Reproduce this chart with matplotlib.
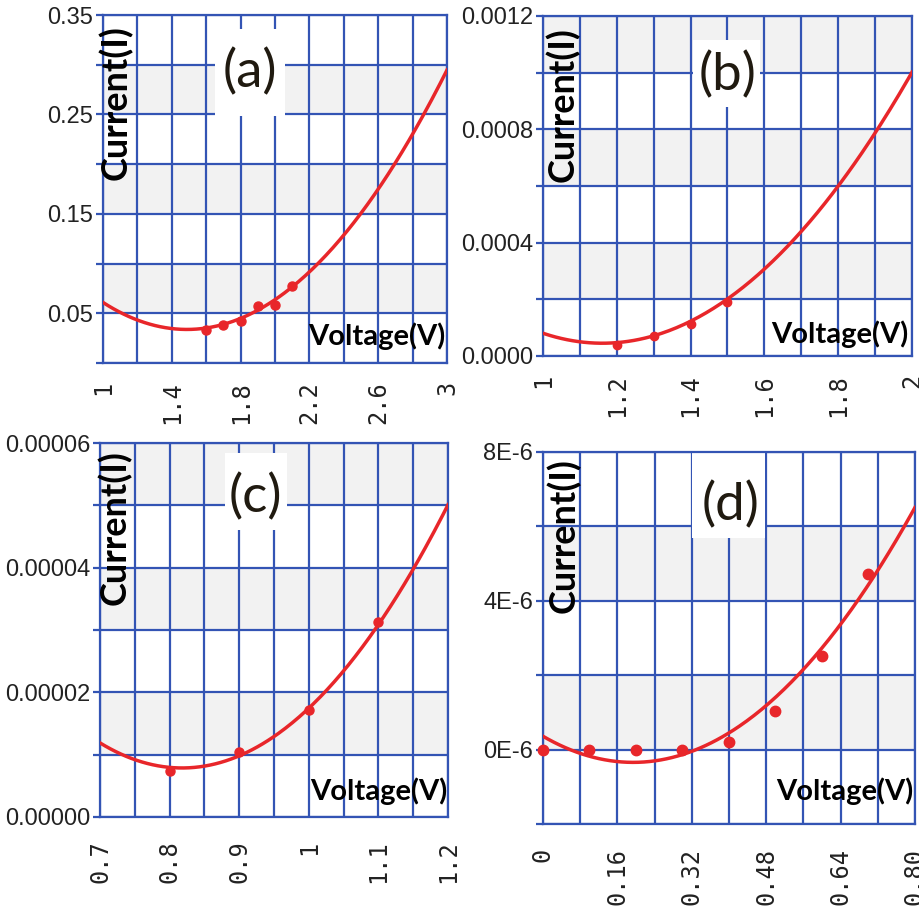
import numpy as np
import matplotlib.pyplot as plt
from matplotlib import font_manager
from matplotlib.patches import Rectangle
from matplotlib.ticker import MultipleLocator

# measured points (voltage, current) for the four samples
a_volt = [1.6, 1.7, 1.8, 1.9, 2.0, 2.1]
a_curr = [0.033, 0.038, 0.042, 0.057, 0.058, 0.077]
b_volt = [1.2, 1.3, 1.4, 1.5]
b_curr = [0.000039, 0.000071, 0.000113, 0.000192]
c_volt = [0.8, 0.9, 1.0, 1.1]
c_curr = [7.4e-6, 1.045e-5, 1.715e-5, 3.13e-5]
d_volt = [0.0, 0.1, 0.2, 0.3, 0.4, 0.5, 0.6, 0.7]
d_curr = [0.0, 0.0, 0.0, 0.0, 0.21e-6, 1.03e-6, 2.52e-6, 4.72e-6]

# values (smoothed with a quadratic)
a_fit_v = [1.0, 1.4, 1.6, 2.0, 2.2, 2.6, 3.0]
a_fit_i = [0.0617, 0.035, 0.034, 0.058, 0.097, 0.177, 0.293]
b_fit_v = [1.0, 1.2, 1.5, 1.6, 1.8, 2.0]
b_fit_i = [0.0000824, 0.000045, 0.000192, 0.000315, 0.000604, 0.000998]
c_fit_v = [0.7, 0.8, 0.9, 1.0, 1.1, 1.2]
c_fit_i = [1.18e-5, 8.0e-6, 1.02e-5, 1.69e-5, 3.11e-5, 5.01e-5]
d_fit_v = [0.0, 0.16, 0.24, 0.32, 0.48, 0.64, 0.8]
d_fit_i = [0.36e-6, -0.31e-6, -0.31e-6, -0.05e-6, 1.12e-6, 3.46e-6, 6.47e-6]

# axis ticks and labels
a_xticks = [1.0, 1.4, 1.8, 2.2, 2.6, 3.0]
a_xlabels = ['1', '1.4', '1.8', '2.2', '2.6', '3']
a_yticks = [0.05, 0.15, 0.25, 0.35]
a_ylabels = ['0.05', '0.15', '0.25', '0.35']
b_xticks = [1.0, 1.2, 1.4, 1.6, 1.8, 2.0]
b_xlabels = ['1', '1.2', '1.4', '1.6', '1.8', '2']
b_yticks = [0.0, 0.0004, 0.0008, 0.0012]
b_ylabels = ['0.0000', '0.0004', '0.0008', '0.0012']
c_xticks = [0.7, 0.8, 0.9, 1.0, 1.1, 1.2]
c_xlabels = ['0.7', '0.8', '0.9', '1', '1.1', '1.2']
c_yticks = [0.0, 0.00002, 0.00004, 0.00006]
c_ylabels = ['0.00000', '0.00002', '0.00004', '0.00006']
d_xticks = [0.0, 0.16, 0.32, 0.48, 0.64, 0.80]
d_xlabels = ['0', '0.16', '0.32', '0.48', '0.64', '0.80']
d_yticks = [0.0, 4e-6, 8e-6]
d_ylabels = ['0E-6', '4E-6', '8E-6']

letters = ['(a)', '(b)', '(c)', '(d)']

blue = '#3354b4'
red = '#e8262a'
band = '#f2f2f2'
bold_font = ['Lato', 'DejaVu Sans']

# narrow font for the y tick labels, whatever is installed
names = {f.name for f in font_manager.fontManager.ttflist}
if 'Liberation Sans Narrow' in names:
    ytick_font = dict(family='Liberation Sans Narrow', size=18)
elif 'Liberation Sans' in names:
    ytick_font = dict(family='Liberation Sans', size=17)
else:
    ytick_font = dict(family='DejaVu Sans', size=15)

panels = [
    dict(pos=[0.1120, 0.6063, 0.3739, 0.3774], v=a_volt, i=a_curr, fv=a_fit_v, fi=a_fit_i,
         xlim=(1, 3), xstep=0.2, xt=a_xticks, xl=a_xlabels,
         ylim=(0, 0.35), ystep=0.05, yt=a_yticks, yl=a_ylabels,
         box=(0.326, 0.710, 0.203, 0.25), let_xy=(0.427, 0.836),
         cur_xy=(0.038, 0.971), volt_xy=(0.994, 0.052), xpad=13, ms=6.5),
    dict(pos=[0.5902, 0.6139, 0.4011, 0.3688], v=b_volt, i=b_curr, fv=b_fit_v, fi=b_fit_i,
         xlim=(1, 2), xstep=0.1, xt=b_xticks, xl=b_xlabels,
         ylim=(0, 0.0012), ystep=0.0002, yt=b_yticks, yl=b_ylabels,
         box=(0.407, 0.732, 0.181, 0.197), let_xy=(0.499, 0.826),
         cur_xy=(0.052, 0.968), volt_xy=(0.989, 0.038), xpad=13, ms=6),
    dict(pos=[0.1087, 0.1139, 0.3783, 0.4056], v=c_volt, i=c_curr, fv=c_fit_v, fi=c_fit_i,
         xlim=(0.7, 1.2), xstep=0.05, xt=c_xticks, xl=c_xlabels,
         ylim=(0, 0.00006), ystep=0.00001, yt=c_yticks, yl=c_ylabels,
         box=(0.359, 0.767, 0.178, 0.206), let_xy=(0.445, 0.856),
         cur_xy=(0.043, 0.98), volt_xy=(0.997, 0.045), xpad=17, ms=6.5),
    dict(pos=[0.5902, 0.1063, 0.4043, 0.4035], v=d_volt, i=d_curr, fv=d_fit_v, fi=d_fit_i,
         xlim=(0, 0.8), xstep=0.08, xt=d_xticks, xl=d_xlabels,
         ylim=(-2e-6, 8e-6), ystep=2e-6, yt=d_yticks, yl=d_ylabels,
         box=(0.40, 0.769, 0.197, 0.228), let_xy=(0.505, 0.858),
         cur_xy=(0.056, 0.984), volt_xy=(0.995, 0.065), xpad=17, ms=7.5),
]

fig = plt.figure(figsize=(9.2, 9.22), dpi=100)

for p, letter in zip(panels, letters):
    ax = fig.add_axes(p['pos'])
    ax.set_xlim(p['xlim'])
    ax.set_ylim(p['ylim'])

    # alternating light grey bands
    y0, y1 = p['ylim']
    nb = int(round((y1 - y0) / p['ystep']))
    for k in range(1, nb, 2):
        ax.axhspan(y0 + k * p['ystep'], y0 + (k + 1) * p['ystep'], color=band, lw=0, zorder=0)

    ax.set_xticks(p['xt'])
    ax.set_xticklabels(p['xl'], rotation=90, fontfamily='DejaVu Sans Mono', fontsize=17, color='#222222')
    ax.set_yticks(p['yt'])
    ax.set_yticklabels(p['yl'], fontproperties=font_manager.FontProperties(**ytick_font), color='#222222')
    ax.xaxis.set_minor_locator(MultipleLocator(p['xstep']))
    ax.yaxis.set_minor_locator(MultipleLocator(p['ystep']))
    ax.set_axisbelow(True)
    ax.grid(which='both', color=blue, lw=1.6)
    ax.tick_params(axis='x', which='both', length=0, pad=p['xpad'])
    ax.tick_params(axis='y', which='both', length=5, width=1.6, color=blue, pad=2)
    for s in ax.spines.values():
        s.set_color(blue)
        s.set_linewidth(1.6)

    # fit curve and data points
    coef = np.polyfit(p['fv'], p['fi'], 2)
    xs = np.linspace(p['xlim'][0], p['xlim'][1], 200)
    ax.plot(xs, np.polyval(coef, xs), color=red, lw=2.5, zorder=3)
    ax.plot(p['v'], p['i'], 'o', color=red, ms=p['ms'], zorder=4, clip_on=False)

    # panel letter in a white box
    bx, by, bw, bh = p['box']
    ax.add_patch(Rectangle((bx, by), bw, bh, transform=ax.transAxes, facecolor='white',
                           edgecolor='none', zorder=2))
    ax.text(p['let_xy'][0], p['let_xy'][1], letter, transform=ax.transAxes, ha='center', va='center',
            fontsize=38, family=['Lato', 'DejaVu Sans'], color='#201a10', zorder=5)

    ax.text(p['cur_xy'][0], p['cur_xy'][1], 'Current(I)', transform=ax.transAxes, rotation=90,
            ha='center', va='top', fontsize=26, fontweight='bold', family=bold_font, zorder=5)
    ax.text(p['volt_xy'][0], p['volt_xy'][1], 'Voltage(V)', transform=ax.transAxes,
            ha='right', va='baseline', fontsize=21, fontweight='bold', family=bold_font, zorder=5)

fig.savefig('out.png', dpi=100, facecolor='white')
